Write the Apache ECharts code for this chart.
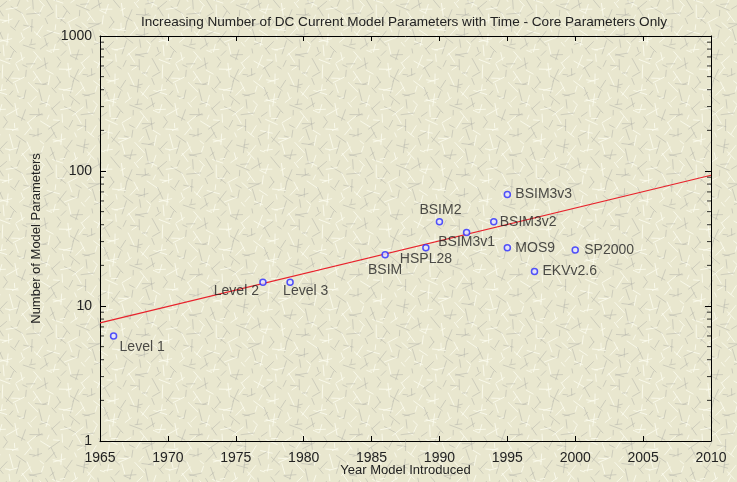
<!DOCTYPE html>
<html><head><meta charset="utf-8">
<script src="https://cdn.jsdelivr.net/npm/echarts@6/dist/echarts.min.js"></script>
<style>html,body{margin:0;padding:0;background:#e2e0c9;}#c{width:737px;height:482px;}</style>
</head><body><div id="c"></div>
<script>
const modelNames = ['Level 1','Level 2','Level 3','BSIM','HSPL28','BSIM2','BSIM3v1','BSIM3v2','BSIM3v3','MOS9','EKVv2.6','SP2000'];
const modelYears = [1966,1977,1979,1986,1989,1990,1992,1994,1995,1995,1997,2000];
const modelParams = [6,15,15,24,27,42,35,42,67,27,18,26];
const trendYears = [1965,2010];
const trendValues = [7.5,93];
const yearTicks = [1965,1970,1975,1980,1985,1990,1995,2000,2005,2010];
const minorTickValues = [2,3,4,5,6,7,8,9,20,30,40,50,60,70,80,90,200,300,400,500,600,700,800,900];

// label placement (style only): [dx, dy, align]
const labelPlace = {
  'Level 1':[6,11,'left'], 'Level 2':[-4,9,'right'], 'Level 3':[-7,9,'left'],
  'BSIM':[0,15,'center'], 'HSPL28':[-26,11,'left'], 'BSIM2':[1,-12,'center'],
  'BSIM3v1':[0,10,'center'], 'BSIM3v2':[6,0,'left'], 'BSIM3v3':[8,0,'left'],
  'MOS9':[8,0,'left'], 'EKVv2.6':[8,0,'left'], 'SP2000':[9,0,'left']
};

// decorative paper texture (background only), low-discrepancy placement
(function(){
  const S = 160;
  const cv = document.createElement('canvas'); cv.width = S; cv.height = S;
  const g = cv.getContext('2d');
  g.fillStyle = '#e9e7cf'; g.fillRect(0,0,S,S);
  g.lineWidth = 1;
  const frac = v => v - Math.floor(v);
  for (let k = 1; k <= 360; k++) {
    const x = frac(k * 0.7548776662) * S, y = frac(k * 0.5698402910) * S;
    const a = frac(k * 0.6180339887) * Math.PI;
    const len = 5 + frac(k * 0.4142135) * 10;
    g.strokeStyle = (k % 2 === 0) ? 'rgba(252,252,238,0.85)' : 'rgba(178,178,170,0.5)';
    for (const ox of [-S,0,S]) for (const oy of [-S,0,S]) {
      g.beginPath();
      g.moveTo(x+ox, y+oy);
      g.lineTo(x+ox+Math.cos(a)*len, y+oy+Math.sin(a)*len);
      g.stroke();
    }
  }
  document.body.style.background = 'url(' + cv.toDataURL() + ')';
})();

const FONT = 'Liberation Sans, Arial, sans-serif';
const chart = echarts.init(document.getElementById('c'));

const pointData = modelNames.map((n,i)=>{
  const p = labelPlace[n];
  return {
    name:n, value:[modelYears[i], modelParams[i]],
    label:{show:true, position:'inside', formatter:n, offset:[p[0],p[1]], align:p[2], verticalAlign:'middle',
      color:'#222', fontSize:14, fontFamily:FONT}
  };
});

const axisLine = {show:true, onZero:false, lineStyle:{color:'#000', width:1}};
chart.setOption({
  animation:false,
  backgroundColor:'transparent',
  title:{text:'Increasing Number of DC Current Model Parameters with Time - Core Parameters Only',
    left:399, top:10, textAlign:'center',
    textStyle:{fontSize:13.6, fontWeight:'normal', color:'#222', fontFamily:FONT}},
  grid:{left:100, right:26, top:36, bottom:41, outerBoundsMode:'none', containLabel:false},
  xAxis:[
    {type:'value', min:1965, max:2010, interval:5, position:'bottom',
     axisLine:axisLine, axisTick:{show:true, inside:true, length:5, lineStyle:{color:'#000'}},
     axisLabel:{color:'#222', fontSize:14, fontFamily:FONT, margin:10, formatter:v=>yearTicks.includes(v)?String(v):''},
     splitLine:{show:false},
     name:'Year Model Introduced', nameLocation:'middle', nameGap:23, nameMoveOverlap:false,
     nameTextStyle:{color:'#222', fontSize:13, fontFamily:FONT}},
    {type:'value', min:1965, max:2010, interval:5, position:'top',
     axisLine:axisLine, axisTick:{show:true, inside:true, length:5, lineStyle:{color:'#000'}},
     axisLabel:{show:false}, splitLine:{show:false}}
  ],
  yAxis:[
    {type:'log', logBase:10, min:1, max:1000, position:'left',
     axisLine:axisLine, axisTick:{show:true, inside:true, length:6, lineStyle:{color:'#000'}},
     axisLabel:{color:'#222', fontSize:14, fontFamily:FONT, margin:8, formatter:v=>String(v)},
     splitLine:{show:false},
     name:'Number of Model Parameters', nameLocation:'middle', nameGap:57, nameRotate:90, nameMoveOverlap:false,
     nameTextStyle:{color:'#222', fontSize:13, fontFamily:FONT}},
    {type:'log', logBase:10, min:1, max:1000, position:'right',
     axisLine:axisLine, axisTick:{show:true, inside:true, length:6, lineStyle:{color:'#000'}},
     axisLabel:{show:false}, splitLine:{show:false}}
  ],
  series:[
    {type:'line', data:trendYears.map((y,i)=>[y,trendValues[i]]), symbol:'none',
     lineStyle:{color:'#e8222c', width:1.2}, silent:true, z:2},
    {type:'scatter', data:pointData, symbol:'circle', symbolSize:6,
     itemStyle:{color:'#e4e4ff', borderColor:'#2a2aff', borderWidth:1.5}, z:3},
    {type:'scatter', data:minorTickValues.map(v=>[1965,v]), symbol:'rect', symbolSize:[4,1], symbolOffset:[2,0],
     itemStyle:{color:'#000'}, silent:true, clip:false, z:4},
    {type:'scatter', data:minorTickValues.map(v=>[2010,v]), symbol:'rect', symbolSize:[4,1], symbolOffset:[-2,0],
     itemStyle:{color:'#000'}, silent:true, clip:false, z:4}
  ]
});
</script></body></html>
